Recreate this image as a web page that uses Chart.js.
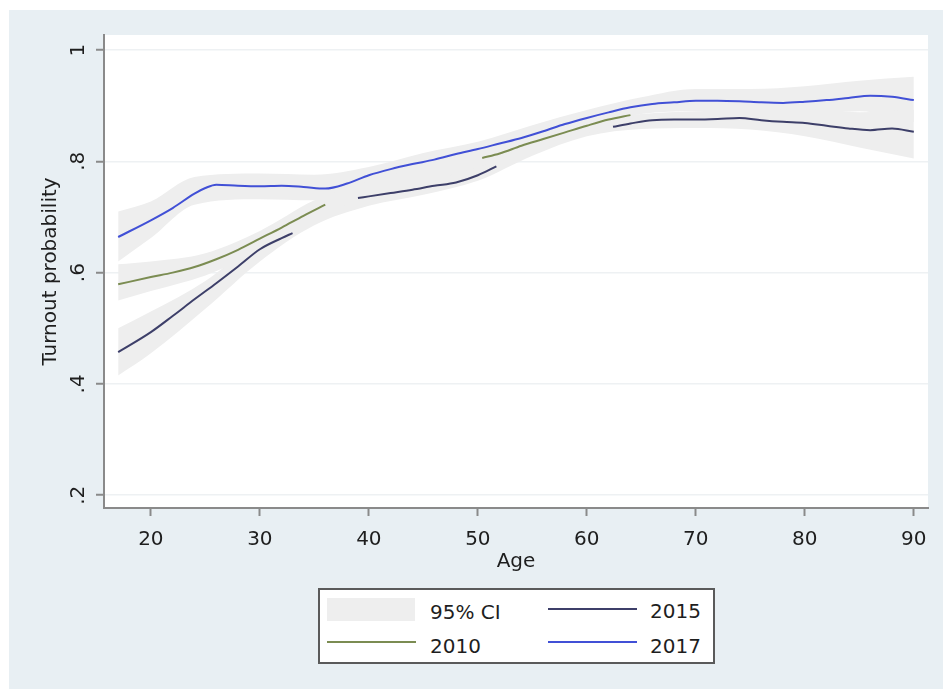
<!DOCTYPE html>
<html>
<head>
<meta charset="utf-8">
<script src="https://cdn.jsdelivr.net/npm/chart.js@4"></script>
<style>
  html, body { margin: 0; padding: 0; background: #ffffff; }
  body { width: 943px; height: 689px; position: relative; overflow: hidden;
         font-family: 'DejaVu Sans', sans-serif; color: #1e1e1e; }
  #frame { position: absolute; left: 9px; top: 10px; width: 934px; height: 679px; background: #e8eff3; }
  #chart { position: absolute; left: 0; top: 0; }
  #legend { position: absolute; left: 309px; top: 578px; width: 393px; height: 72px;
            border: 2px solid #5a5a5a; background: #ffffff; }
  #legend .sw { position: absolute; }
  #legend .tx { position: absolute; height: 24px; line-height: 24px; font-size: 20px; white-space: nowrap; }
</style>
</head>
<body>
<div id="frame">
  <canvas id="chart" width="934" height="679"></canvas>
  <div id="legend"></div>
</div>
<script>
// Smoothed turnout by age, one line per election year.
// null breaks the line where it is not drawn.
const ages2010    = [17, 20, 22, 24, 26, 28, 30, 32, 34, 36, 36.5, 50.4, 52, 54, 56, 58, 60, 62, 64];
const turnout2010 = [.579, .592, .600, .610, .624, .641, .661, .681, .702, .722, null, .806, .814, .828, .840, .852, .864, .875, .883];

const ages2015    = [17, 20, 22, 24, 26, 28, 30, 32, 33, 36, 39, 40, 42, 44, 46, 48, 50, 51.7, 57, 62.4, 64, 66, 68, 70, 72, 74, 76, 78, 80, 82, 84, 86, 88, 90];
const turnout2015 = [.457, .493, .522, .552, .581, .611, .642, .662, .671, null, .734, .737, .743, .749, .756, .762, .775, .791, null, .862, .868, .874, .875, .875, .876, .878, .874, .871, .869, .864, .859, .856, .859, .853];

const ages2017    = [17, 20, 22, 24, 25, 26, 28, 30, 32, 34, 36, 38, 40, 42, 44, 46, 48, 50, 52, 54, 56, 58, 60, 62, 64, 66, 68, 70, 72, 74, 76, 78, 80, 82, 84, 86, 88, 90];
const turnout2017 = [.664, .694, .716, .742, .752, .758, .756, .755, .756, .754, .751, .760, .775, .786, .795, .803, .813, .822, .832, .842, .854, .867, .878, .888, .897, .903, .906, .909, .909, .908, .906, .905, .907, .910, .914, .918, .916, .910];

// 95% confidence bands
const bandAges2010 = [17, 20, 25, 30, 35, 40, 45, 50, 55, 60, 64];
const lower2010    = [.550, .567, .595, .640, .700, .735, .760, .790, .815, .850, .865];
const upper2010    = [.615, .620, .635, .675, .730, .765, .790, .820, .845, .880, .898];

const bandAges2015 = [17, 20, 25, 30, 35, 40, 45, 50, 55, 60, 65, 70, 75, 80, 85, 90];
const lower2015    = [.415, .455, .535, .620, .685, .720, .740, .765, .810, .845, .858, .860, .857, .845, .825, .805];
const upper2015    = [.500, .530, .585, .660, .715, .752, .770, .795, .835, .872, .885, .890, .892, .893, .888, .893];

const bandAges2017 = [17, 20, 24, 30, 35, 40, 45, 50, 55, 60, 65, 70, 75, 80, 85, 90];
const lower2017    = [.620, .662, .722, .732, .730, .760, .785, .805, .835, .862, .885, .890, .888, .885, .890, .870];
const upper2017    = [.710, .728, .772, .778, .776, .790, .815, .835, .865, .892, .915, .930, .930, .935, .945, .952];

const xTicks = [20, 30, 40, 50, 60, 70, 80, 90];
const yTicks = [0.2, 0.4, 0.6, 0.8, 1];

const FONT = "'DejaVu Sans', sans-serif";
const INK = '#1e1e1e';
const AXIS = '#8a8a8a';
const BAND = '#eeeeee';
const COLORS = { '2010': '#7b8c52', '2015': '#3d3f69', '2017': '#4150d6' };

const pts = (xs, ys) => xs.map((x, i) => ({ x: x, y: ys[i] }));

function lineSet(label, xs, ys) {
  return {
    label: label, data: pts(xs, ys), borderColor: COLORS[label], borderWidth: 2,
    pointRadius: 0, fill: false, spanGaps: false, cubicInterpolationMode: 'monotone', order: 1
  };
}
function bandSets(name, xs, lo, hi) {
  return [
    { label: name + ' lower', data: pts(xs, lo), borderWidth: 0, pointRadius: 0, fill: false,
      cubicInterpolationMode: 'monotone', order: 2, isBand: true },
    { label: name + ' upper', data: pts(xs, hi), borderWidth: 0, pointRadius: 0, fill: '-1',
      backgroundColor: BAND, cubicInterpolationMode: 'monotone', order: 2, isBand: true }
  ];
}

const plotBackground = {
  id: 'plotBackground',
  beforeDraw(chart) {
    const a = chart.chartArea, c = chart.ctx;
    c.save(); c.fillStyle = '#ffffff'; c.fillRect(a.left, a.top, a.right - a.left, a.bottom - a.top); c.restore();
  }
};

const chart = new Chart(document.getElementById('chart'), {
  type: 'line',
  data: {
    datasets: [
      lineSet('2010', ages2010, turnout2010),
      lineSet('2015', ages2015, turnout2015),
      lineSet('2017', ages2017, turnout2017),
      ...bandSets('2010', bandAges2010, lower2010, upper2010),
      ...bandSets('2015', bandAges2015, lower2015, upper2015),
      ...bandSets('2017', bandAges2017, lower2017, upper2017)
    ]
  },
  options: {
    responsive: false,
    animation: false,
    layout: { padding: { left: 0, top: 25, right: 15, bottom: 111 } },
    plugins: { legend: { display: false }, tooltip: { enabled: false } },
    scales: {
      x: {
        type: 'linear', min: 15.7, max: 91.3,
        afterBuildTicks: s => { s.ticks = xTicks.map(v => ({ value: v })); },
        afterFit: s => { s.height = 70; },
        border: { display: true, color: AXIS, width: 2 },
        grid: { drawOnChartArea: false, drawTicks: true, tickLength: 8, tickColor: AXIS, tickWidth: 2 },
        ticks: { color: INK, font: { family: FONT, size: 20 }, padding: 12, maxRotation: 0, autoSkip: false },
        title: { display: true, text: 'Age', color: INK, font: { family: FONT, size: 20 }, padding: { top: 0, bottom: 4 } }
      },
      y: {
        type: 'linear', min: 0.177, max: 1.027,
        afterBuildTicks: s => { s.ticks = yTicks.map(v => ({ value: v })); },
        afterFit: s => { s.width = 95; },
        border: { display: true, color: AXIS, width: 2 },
        grid: { color: '#eef1f3', lineWidth: 1.5, drawTicks: true, tickLength: 8, tickColor: AXIS, tickWidth: 2 },
        ticks: {
          color: INK, font: { family: FONT, size: 20 }, minRotation: 90, maxRotation: 90,
          crossAlign: 'center', padding: 8, autoSkip: false,
          callback: v => (v === 1 ? '1' : String(v).replace(/^0/, ''))
        },
        title: { display: true, text: 'Turnout probability', color: INK, font: { family: FONT, size: 20 }, padding: { top: 30, bottom: 0 } }
      }
    }
  },
  plugins: [plotBackground]
});

// Legend box built from the chart's own datasets
(function buildLegend() {
  const box = document.getElementById('legend');
  const add = (cls, css, text) => {
    const el = document.createElement('div');
    el.className = cls; Object.assign(el.style, css);
    if (text) el.textContent = text;
    box.appendChild(el);
  };
  const band = chart.data.datasets.find(d => d.isBand && d.fill === '-1');
  add('sw', { left: '7px', top: '8px', width: '88px', height: '23px', background: band.backgroundColor });
  add('tx', { left: '110px', top: '10px' }, '95% CI');
  const slots = { '2015': [228, 19, 330, 9], '2010': [7, 52, 110, 44], '2017': [228, 52, 330, 44] };
  chart.data.datasets.filter(d => !d.isBand).forEach(d => {
    const s = slots[d.label];
    add('sw', { left: s[0] + 'px', top: (s[1] - 1) + 'px', width: '89px', height: '2px', background: d.borderColor });
    add('tx', { left: s[2] + 'px', top: s[3] + 'px' }, d.label);
  });
})();
</script>
</body>
</html>
